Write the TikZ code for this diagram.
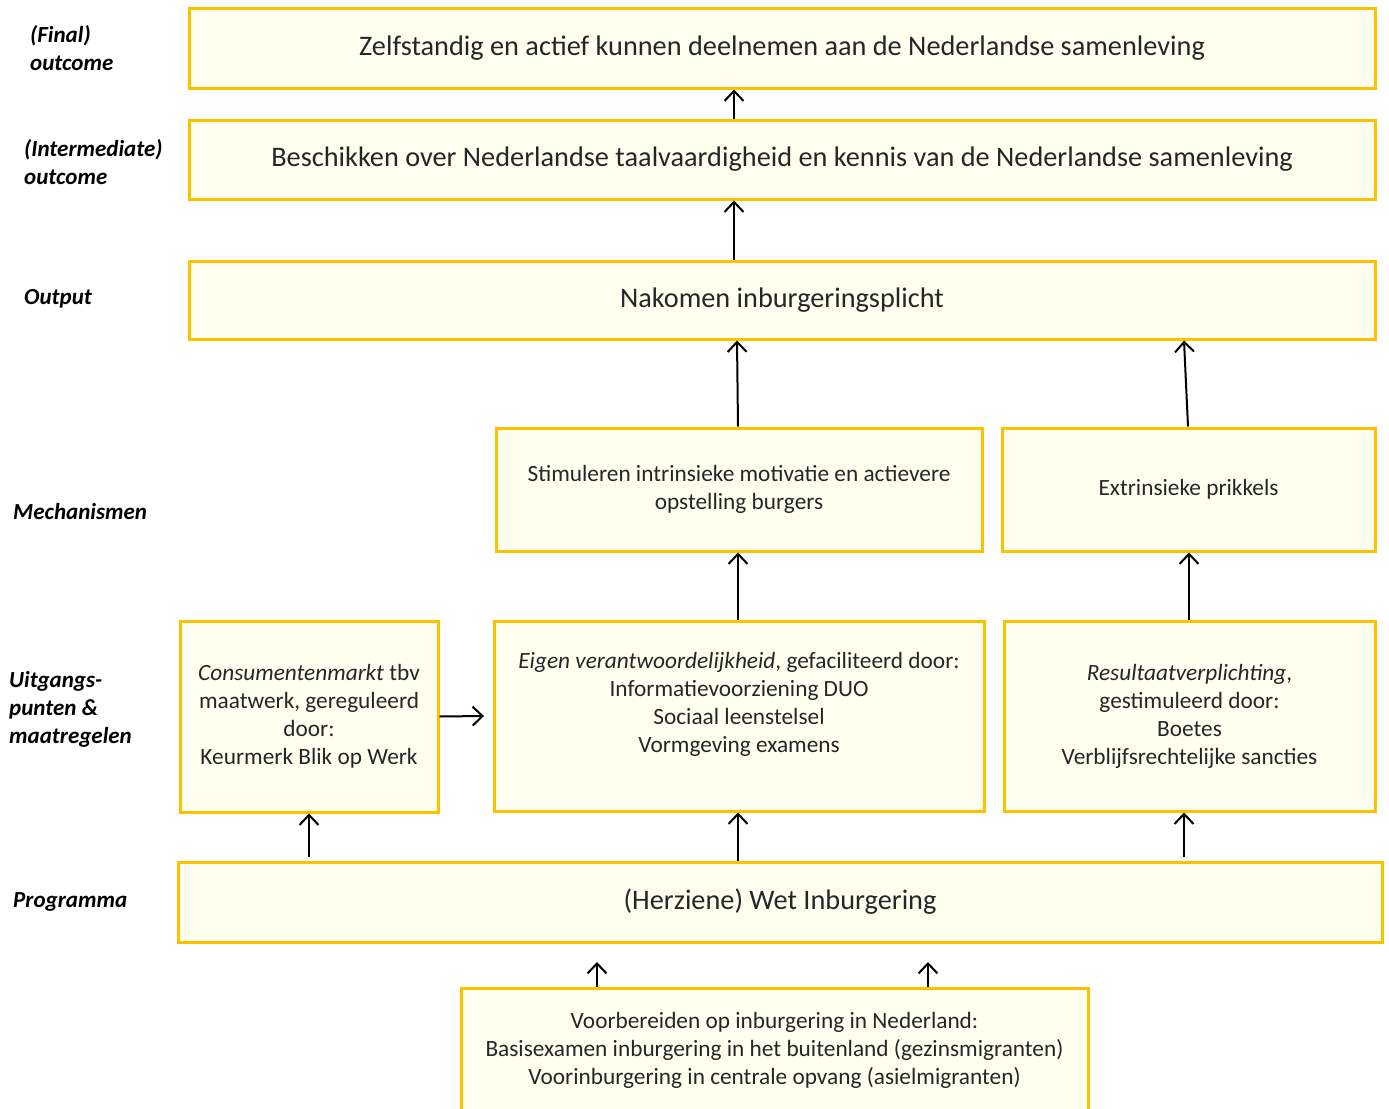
\documentclass[tikz,border=0pt]{standalone}
\usepackage{fontspec}
\setmainfont{Carlito}
\usetikzlibrary{arrows.meta}
\definecolor{boxline}{RGB}{255,192,0}
\definecolor{boxfill}{RGB}{255,255,240}
\tikzset{
  box/.style={draw=boxline, fill=boxfill, line width=3pt, inner sep=0pt, align=center, text=black!85},
  bigtxt/.style={font=\fontsize{28.3}{30}\selectfont},
  midtxt/.style={font=\fontsize{23.3}{28}\selectfont},
  side/.style={anchor=west, align=left, inner sep=0pt, font=\fontsize{23}{28}\selectfont\bfseries\itshape},
  arr/.style={line width=2pt, -{Straight Barb[length=10pt,width=19pt,line width=2pt]}}
}
\begin{document}
\begin{tikzpicture}[x=1pt,y=-1pt]
\useasboundingbox (0,0) rectangle (1389,1108);
\fill[white] (0,0) rectangle (1389,1108);

% boxes
\node[box,bigtxt,minimum width=1186pt,minimum height=79pt] (final) at (782,48.5) {Zelfstandig en actief kunnen deelnemen aan de Nederlandse samenleving};
\node[box,bigtxt,minimum width=1186pt,minimum height=79pt] (inter) at (782,159.5) {Beschikken over Nederlandse taalvaardigheid en kennis van de Nederlandse samenleving};
\node[box,bigtxt,minimum width=1186pt,minimum height=78pt] (output) at (782,300) {Nakomen inburgeringsplicht};
\node[box,midtxt,minimum width=486pt,minimum height=123pt] (mech1) at (739,489.5) {Stimuleren intrinsieke motivatie en actievere\\opstelling burgers};
\node[box,midtxt,minimum width=373pt,minimum height=123pt] (mech2) at (1188.5,489.5) {Extrinsieke prikkels};
\node[box,midtxt,minimum width=258pt,minimum height=191pt] (uitg1) at (309,716.5) {\textit{Consumentenmarkt} tbv\\maatwerk, gereguleerd\\door:\\Keurmerk Blik op Werk};
\node[box,minimum width=490pt,minimum height=190pt] (uitg2) at (739,716) {};
\node[midtxt,align=center,inner sep=0pt,text=black!85] (uitg2txt) at (739,704) {\textit{Eigen verantwoordelijkheid}, gefaciliteerd door:\\Informatievoorziening DUO\\Sociaal leenstelsel\\Vormgeving examens};
\node[box,midtxt,minimum width=371pt,minimum height=190pt] (uitg3) at (1189.5,716) {\textit{Resultaatverplichting},\\gestimuleerd door:\\Boetes\\Verblijfsrechtelijke sancties};
\node[box,bigtxt,minimum width=1204pt,minimum height=80pt] (prog) at (780,902) {(Herziene) Wet Inburgering};
\node[box,midtxt,minimum width=627pt,minimum height=124pt] (voor) at (774.5,1050) {Voorbereiden op inburgering in Nederland:\\Basisexamen inburgering in het buitenland (gezinsmigranten)\\Voorinburgering in centrale opvang (asielmigranten)};

% side labels
\node[side] (l1) at (30,48) {(Final)\\outcome};
\node[side] (l2) at (24,162) {(Intermediate)\\outcome};
\node[side] (l3) at (24,299) {Output};
\node[side] (l4) at (13,512) {Mechanismen};
\node[side] (l5) at (9,709) {Uitgangs-\\punten \&\\maatregelen};
\node[side] (l6) at (13,902) {Programma};

% coordinates for free ends
\coordinate (b1) at (597,962);
\coordinate (b2) at (928,962);
\coordinate (u12) at (484,716);

% arrows
\draw[arr] (inter.north -| 734,0) -- (final.south -| 734,0);
\draw[arr] (output.north -| 734,0) -- (inter.south -| 734,0);
\draw[arr] (mech1.north -| 738,0) -- (output.south -| 737,0);
\draw[arr] (mech2.north -| 1188,0) -- (output.south -| 1184,0);
\draw[arr] (uitg2.north -| 738,0) -- (mech1.south -| 738,0);
\draw[arr] (uitg3.north -| 1189,0) -- (mech2.south -| 1189,0);
\draw[arr] (309,857) -- (uitg1.south -| 309,0);
\draw[arr] (prog.north -| 738,0) -- (uitg2.south -| 738,0);
\draw[arr] (1184,857) -- (uitg3.south -| 1184,0);
\draw[arr] (uitg1.east) -- (u12);
\draw[arr] (voor.north -| 597,0) -- (b1);
\draw[arr] (voor.north -| 928,0) -- (b2);
\end{tikzpicture}
\end{document}
